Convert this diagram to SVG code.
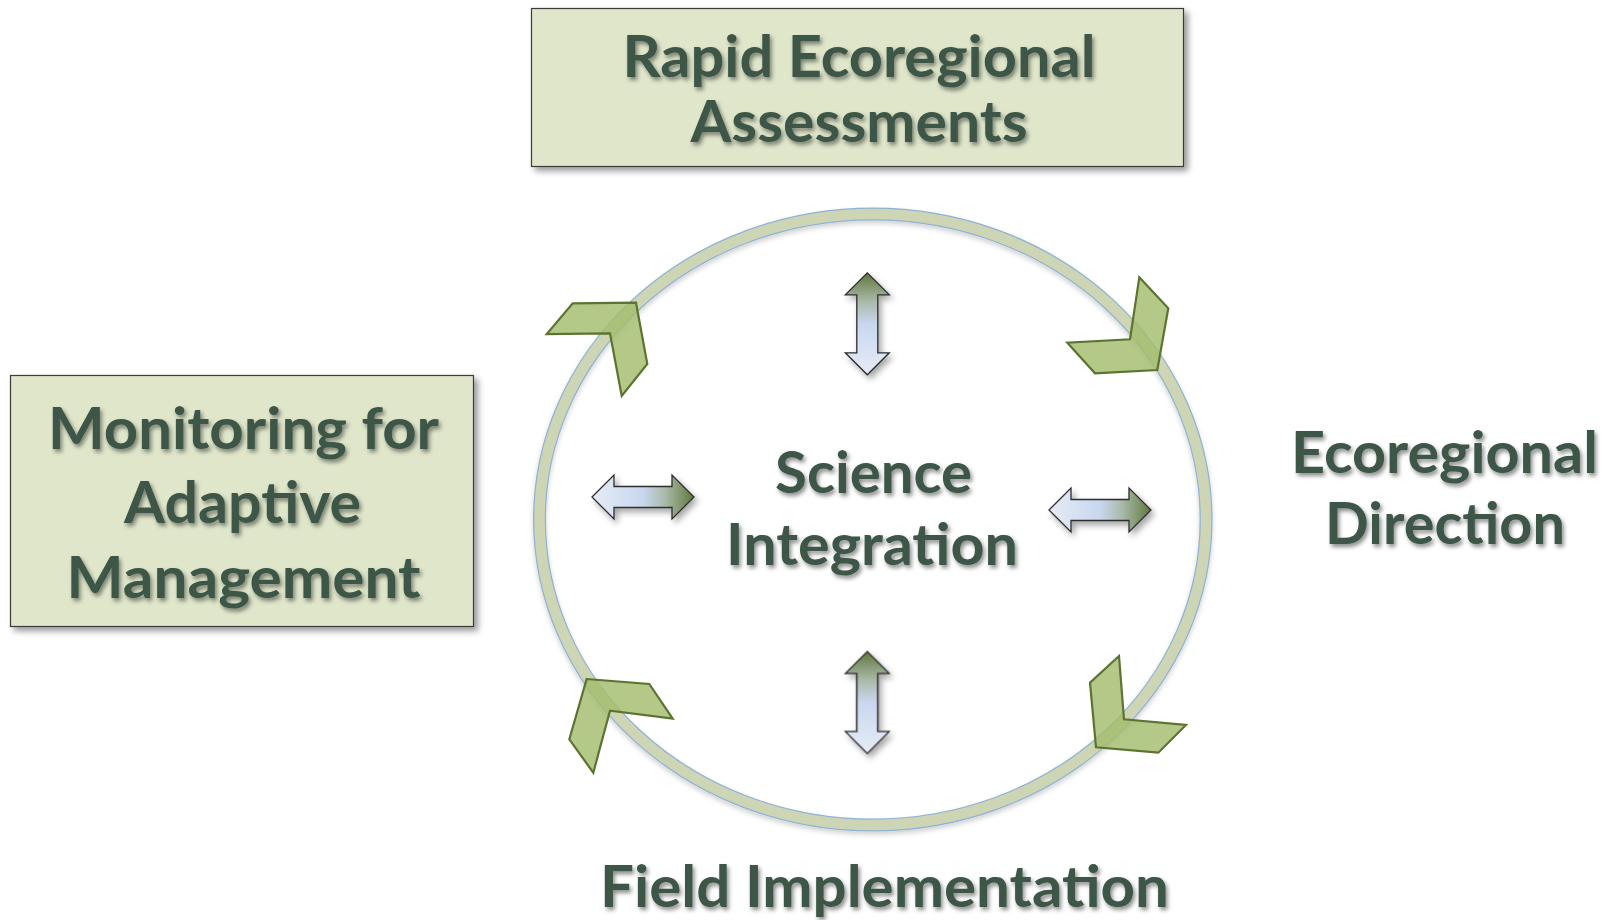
<svg xmlns="http://www.w3.org/2000/svg" width="1608" height="920" viewBox="0 0 1608 920">
  <defs>
    <style>
      .lbl { font-family: "Lato", "Liberation Sans", sans-serif; font-weight: 700; font-size: 58px; fill: #3c5646; text-anchor: middle; }
      .box { fill: #dfe6ca; stroke: #3a3a3a; stroke-width: 1.2; }
      .chev { fill: #a3bc6c; fill-opacity: 0.82; stroke: #5b7431; stroke-width: 2.2; stroke-linejoin: miter; }
      .dbl { stroke: #2e2e2e; stroke-width: 1.3; stroke-linejoin: miter; }
    </style>
    <filter id="txtShadow" x="-10%" y="-20%" width="120%" height="150%">
      <feDropShadow dx="2" dy="3" stdDeviation="2" flood-color="#000" flood-opacity="0.45"/>
    </filter>
    <filter id="boxShadow" x="-5%" y="-5%" width="115%" height="120%">
      <feDropShadow dx="4" dy="4" stdDeviation="3" flood-color="#000" flood-opacity="0.4"/>
    </filter>
    <filter id="arrowShadow" x="-20%" y="-30%" width="150%" height="170%">
      <feDropShadow dx="3" dy="4" stdDeviation="3" flood-color="#000" flood-opacity="0.35"/>
    </filter>
    <filter id="ringShadow" x="-5%" y="-5%" width="110%" height="112%">
      <feDropShadow dx="0" dy="3" stdDeviation="2.5" flood-color="#000" flood-opacity="0.18"/>
    </filter>
    <linearGradient id="dblFill" x1="0" y1="0" x2="1" y2="0">
      <stop offset="0" stop-color="#e6ecf6"/>
      <stop offset="0.5" stop-color="#c8d7ef"/>
      <stop offset="0.72" stop-color="#a9b9a8"/>
      <stop offset="1" stop-color="#5f783c"/>
    </linearGradient>
    <!-- two-headed arrow, horizontal, centred on the origin -->
    <path id="dblArrow" class="dbl" fill="url(#dblFill)"
          d="M -51 0 L -29 -22 L -29 -10.5 L 29 -10.5 L 29 -22 L 51 0 L 29 22 L 29 10.5 L -29 10.5 L -29 22 Z"/>
  </defs>

  <rect width="1608" height="920" fill="#ffffff"/>

  <!-- cycle ring -->
  <g id="ring" filter="url(#ringShadow)">
    <ellipse cx="872.8" cy="519.5" rx="333.3" ry="305.5" fill="none" stroke="#8fb2d6" stroke-width="13"/>
    <ellipse cx="872.8" cy="519.5" rx="333.3" ry="305.5" fill="none" stroke="#cdd5b4" stroke-width="10.5"/>
  </g>

  <!-- connectors: cycle chevrons and two-way exchange arrows -->
  <g id="connectors">
    <polygon class="chev" points="572.7,303.3 636,302.7 647.3,364 621.7,396 610,333.3 546.7,334"/>
    <polygon class="chev" points="1139.3,277.3 1168.3,308.3 1157.3,370 1095,373.3 1067.3,342.7 1130,339.3"/>
    <polygon class="chev" points="1119,656 1090,682.7 1096,747.3 1158.3,752.7 1186,725 1124,719.3"/>
    <polygon class="chev" points="586.7,679 649.3,684 672.7,718.7 610,710.7 593.3,772.7 569.3,739.3"/>

    <g filter="url(#arrowShadow)">
      <use href="#dblArrow" transform="translate(867.3 323.8) rotate(-90)"/>
      <use href="#dblArrow" transform="translate(867.3 702.5) rotate(-90)"/>
      <use href="#dblArrow" transform="translate(643 497)"/>
      <use href="#dblArrow" transform="translate(1100 510)"/>
    </g>
  </g>

  <g id="rapid-assessments">
    <rect class="box" x="531.5" y="8.5" width="652" height="158" filter="url(#boxShadow)"/>
    <g filter="url(#txtShadow)">
      <text class="lbl" x="859" y="77" textLength="473" lengthAdjust="spacingAndGlyphs">Rapid Ecoregional</text>
      <text class="lbl" x="859" y="141.5" textLength="337" lengthAdjust="spacingAndGlyphs">Assessments</text>
    </g>
  </g>

  <g id="monitoring">
    <rect class="box" x="10.5" y="375.5" width="463" height="251" filter="url(#boxShadow)"/>
    <g filter="url(#txtShadow)">
      <text class="lbl" x="243.5" y="449" textLength="391" lengthAdjust="spacingAndGlyphs">Monitoring for</text>
      <text class="lbl" x="242.6" y="523" textLength="237" lengthAdjust="spacingAndGlyphs">Adaptive</text>
      <text class="lbl" x="243.6" y="598" textLength="354" lengthAdjust="spacingAndGlyphs">Management</text>
    </g>
  </g>

  <g id="science-integration" filter="url(#txtShadow)">
    <text class="lbl" x="873.6" y="493" textLength="197" lengthAdjust="spacingAndGlyphs">Science</text>
    <text class="lbl" x="872" y="565" textLength="292" lengthAdjust="spacingAndGlyphs">Integration</text>
  </g>

  <g id="ecoregional-direction" filter="url(#txtShadow)">
    <text class="lbl" x="1444.5" y="473" textLength="307" lengthAdjust="spacingAndGlyphs">Ecoregional</text>
    <text class="lbl" x="1445" y="543.5" textLength="240" lengthAdjust="spacingAndGlyphs">Direction</text>
  </g>

  <g id="field-implementation" filter="url(#txtShadow)">
    <text class="lbl" x="884.5" y="906.5" textLength="569" lengthAdjust="spacingAndGlyphs">Field Implementation</text>
  </g>
</svg>
